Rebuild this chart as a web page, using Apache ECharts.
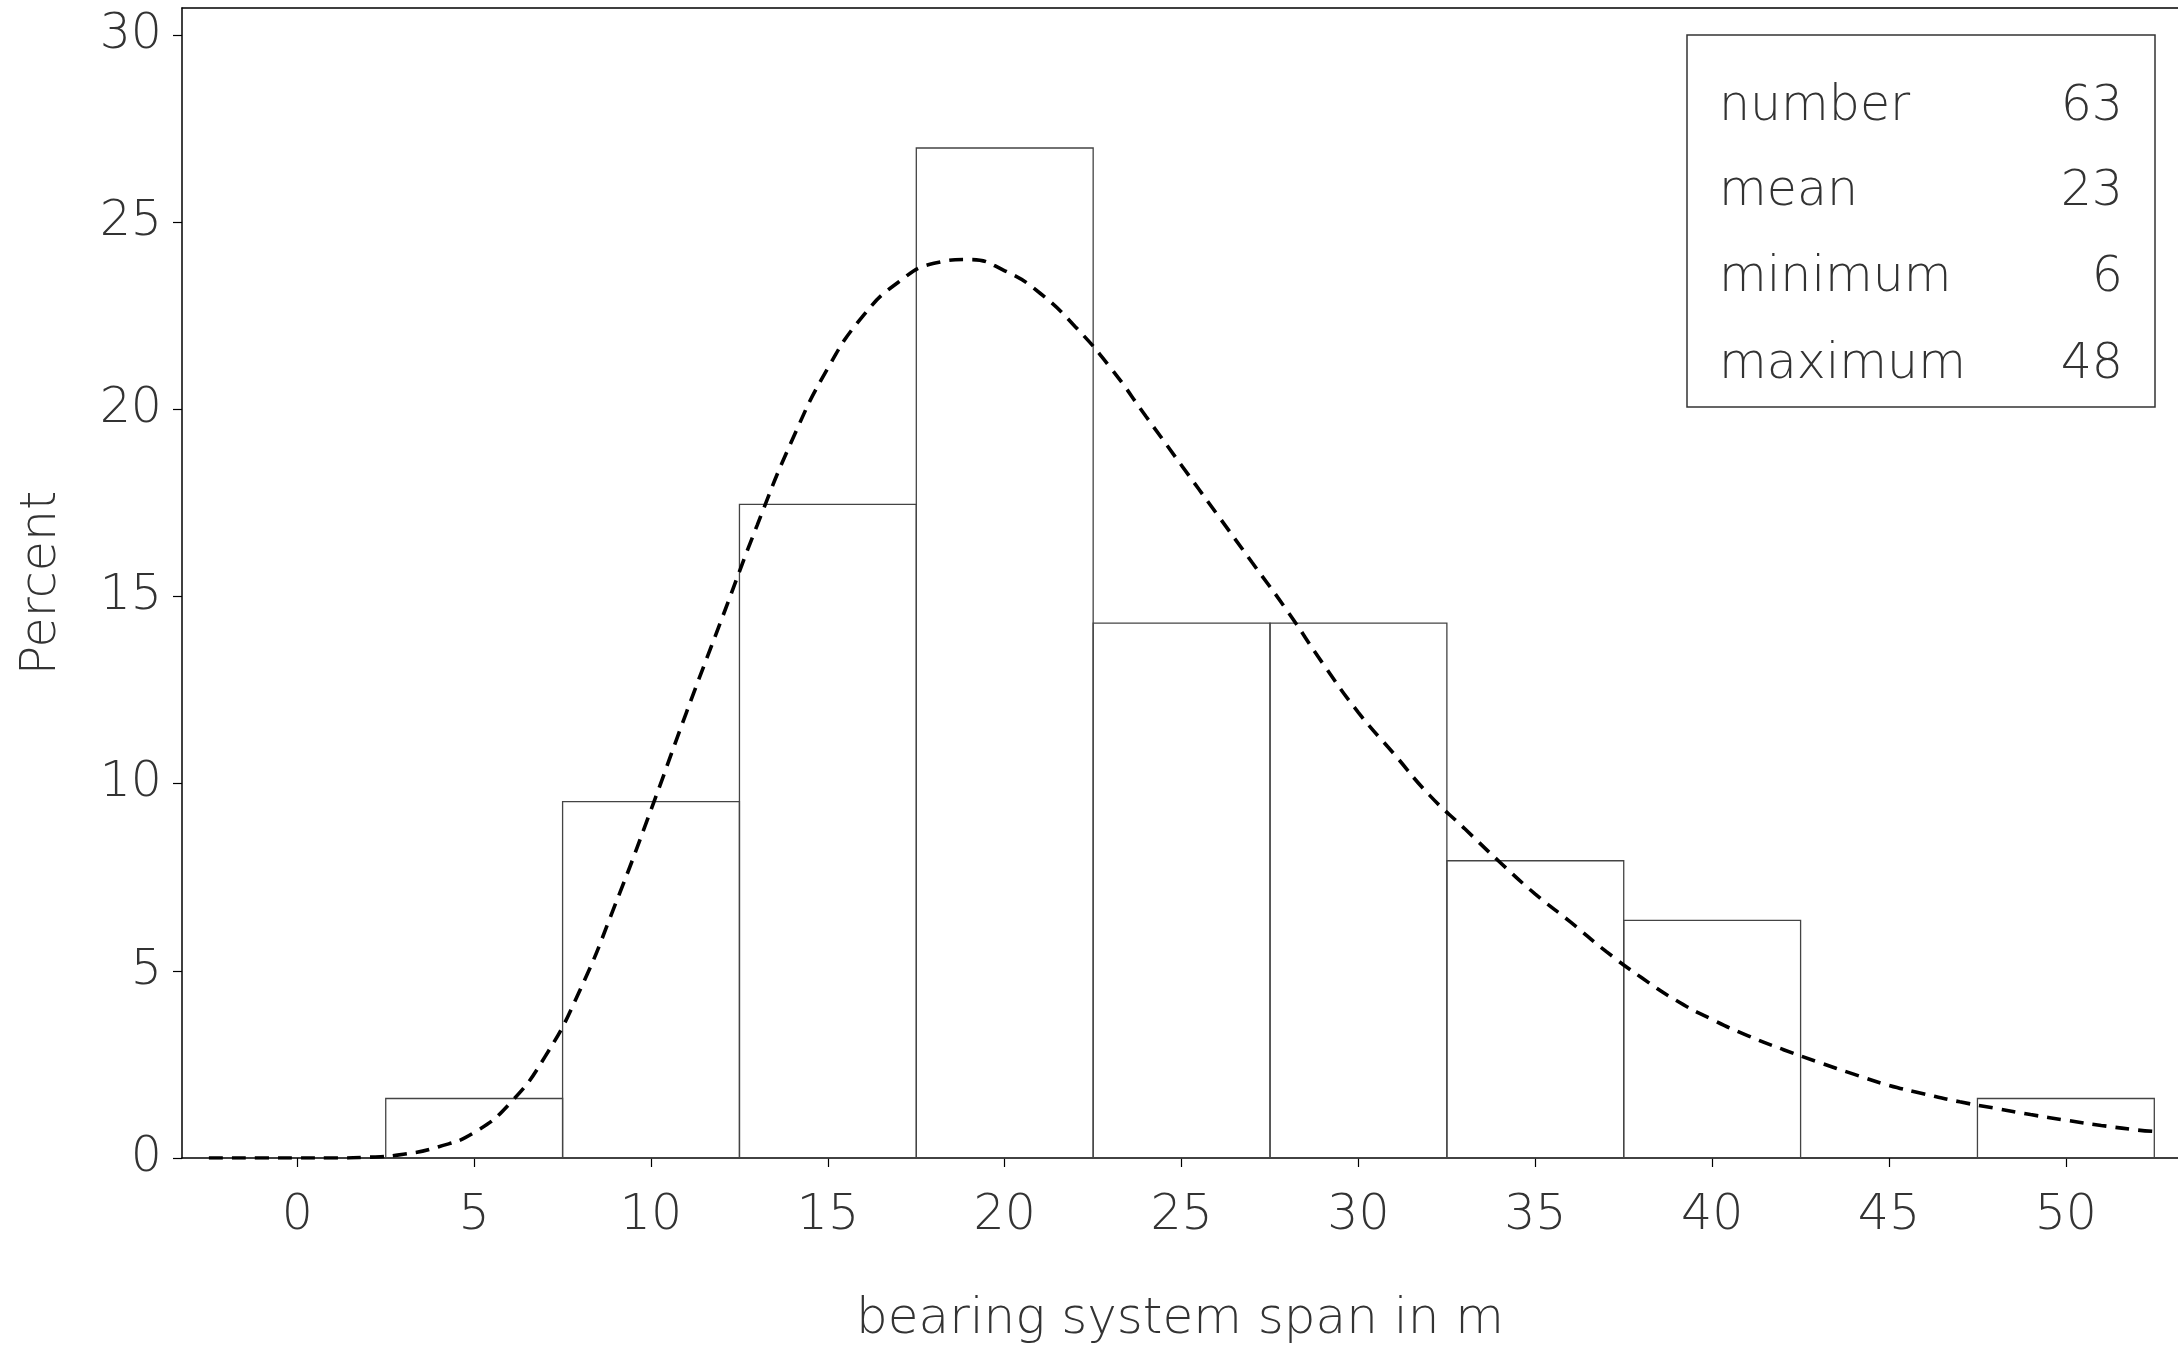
<!DOCTYPE html>
<html>
<head>
<meta charset="utf-8">
<script src="https://cdn.jsdelivr.net/npm/echarts@6/dist/echarts.min.js"></script>
<style>
html,body{margin:0;padding:0;background:#fff;}
#chart{width:2178px;height:1347px;}
</style>
</head>
<body>
<div id="chart"></div>
<script>
// Histogram bins (bearing system span, m)
const binLower = [2.5, 7.5, 12.5, 17.5, 22.5, 27.5, 32.5, 37.5, 42.5, 47.5];
const binUpper = [7.5, 12.5, 17.5, 22.5, 27.5, 32.5, 37.5, 42.5, 47.5, 52.5];
const percents = [1.59, 9.52, 17.46, 26.98, 14.29, 14.29, 7.94, 6.35, 0, 1.59];

// Fitted density curve (dashed)
const curveX = [-2.5, -2, -1, 0, 1, 2, 3, 4, 5, 6, 7, 8, 9, 10, 11, 12, 13, 14, 15, 16, 17, 18, 19, 20, 21, 22, 23, 24, 25, 26, 27, 28, 29, 30, 31, 32, 33, 34, 35, 36, 37, 38, 39, 40, 41, 42, 43, 44, 45, 46, 47, 48, 49, 50, 51, 52, 52.5];
const curveY = [0, 0, 0, 0, 0, 0.02, 0.1, 0.3, 0.68, 1.45, 2.7, 4.5, 6.8, 9.3, 11.9, 14.4, 16.9, 19.2, 21.1, 22.5, 23.4, 23.9, 24.0, 23.7, 23.1, 22.2, 21.1, 19.8, 18.5, 17.2, 15.9, 14.6, 13.2, 11.9, 10.8, 9.7, 8.8, 7.9, 7.05, 6.3, 5.52, 4.82, 4.2, 3.7, 3.27, 2.9, 2.56, 2.24, 1.94, 1.71, 1.5, 1.33, 1.16, 1.01, 0.87, 0.75, 0.71];

// Axis ticks
const xTicks = [0, 5, 10, 15, 20, 25, 30, 35, 40, 45, 50];
const yTicks = [0, 5, 10, 15, 20, 25, 30];

// Summary box
const statLabels = ['number', 'mean', 'minimum', 'maximum'];
const statValues = ['63', '23', '6', '48'];

const FONT = 'DejaVu Sans';
const FW = 200;
const FS = 49;
const TXT = '#333';

const chart = echarts.init(document.getElementById('chart'), null, {renderer: 'canvas'});

const barData = binLower.map((lo, i) => [lo, binUpper[i], percents[i]]);
const lineData = curveX.map((x, i) => [x, curveY[i]]);

const statGraphics = [{
  type: 'rect',
  shape: {x: 1687, y: 35, width: 468, height: 372},
  style: {fill: 'none', stroke: '#333', lineWidth: 1.5},
  z: 100
}];
const rowY = [107, 192, 278, 365];
statLabels.forEach((t, i) => {
  statGraphics.push({type: 'text', x: 1719, y: rowY[i], z: 101,
    style: {text: t, fill: TXT, font: FW + ' ' + FS + 'px "' + FONT + '"', align: 'left', verticalAlign: 'middle'}});
  statGraphics.push({type: 'text', x: 2123, y: rowY[i], z: 101,
    style: {text: statValues[i], fill: TXT, font: FW + ' ' + FS + 'px "' + FONT + '"', align: 'right', verticalAlign: 'middle'}});
});

const option = {
  backgroundColor: '#fff',
  animation: false,
  grid: {left: 182, top: 8, right: 0, bottom: 189, containLabel: false, outerBoundsMode: 'none'},
  xAxis: [{
    type: 'value', min: -3.26, max: 53.17,
    name: 'bearing system span in m', nameLocation: 'middle', nameGap: 137,
    nameTextStyle: {fontFamily: FONT, fontWeight: FW, fontSize: FS + 1, color: TXT},
    axisLine: {show: true, onZero: false, lineStyle: {color: '#000', width: 1.5}},
    axisTick: {show: true, inside: false, length: 9, customValues: xTicks, lineStyle: {color: '#000', width: 1.2}},
    axisLabel: {show: true, customValues: xTicks, margin: 34, fontFamily: FONT, fontWeight: FW, fontSize: FS, color: TXT},
    splitLine: {show: false}
  }, {
    type: 'value', position: 'top', min: -3.26, max: 53.17,
    axisLine: {show: true, onZero: false, lineStyle: {color: '#000', width: 1.5}},
    axisTick: {show: false}, axisLabel: {show: false}, splitLine: {show: false}
  }],
  yAxis: {
    type: 'value', min: 0, max: 30.72,
    name: 'Percent', nameLocation: 'middle', nameGap: 115,
    nameTextStyle: {fontFamily: FONT, fontWeight: FW, fontSize: FS, color: TXT},
    axisLine: {show: true, onZero: false, lineStyle: {color: '#000', width: 1.5}},
    axisTick: {show: true, inside: false, length: 9, customValues: yTicks, lineStyle: {color: '#000', width: 1.2}},
    axisLabel: {show: true, customValues: yTicks, margin: 20, fontFamily: FONT, fontWeight: FW, fontSize: FS, color: TXT},
    splitLine: {show: false}
  },
  series: [{
    type: 'custom',
    data: barData,
    encode: {x: [0, 1], y: 2},
    renderItem: function (params, api) {
      const lo = api.value(0), hi = api.value(1), v = api.value(2);
      if (!(v > 0)) return;
      const p0 = api.coord([lo, v]);
      const p1 = api.coord([hi, 0]);
      return {
        type: 'rect',
        shape: {x: p0[0], y: p0[1], width: p1[0] - p0[0], height: p1[1] - p0[1]},
        style: {fill: 'none', stroke: '#444', lineWidth: 1.3}
      };
    },
    z: 2
  }, {
    type: 'line',
    data: lineData,
    smooth: 0.5,
    showSymbol: false,
    symbol: 'none',
    lineStyle: {color: '#000', width: 3.6, type: [14, 9]},
    z: 3
  }],
  graphic: statGraphics
};
chart.setOption(option);
</script>
</body>
</html>
